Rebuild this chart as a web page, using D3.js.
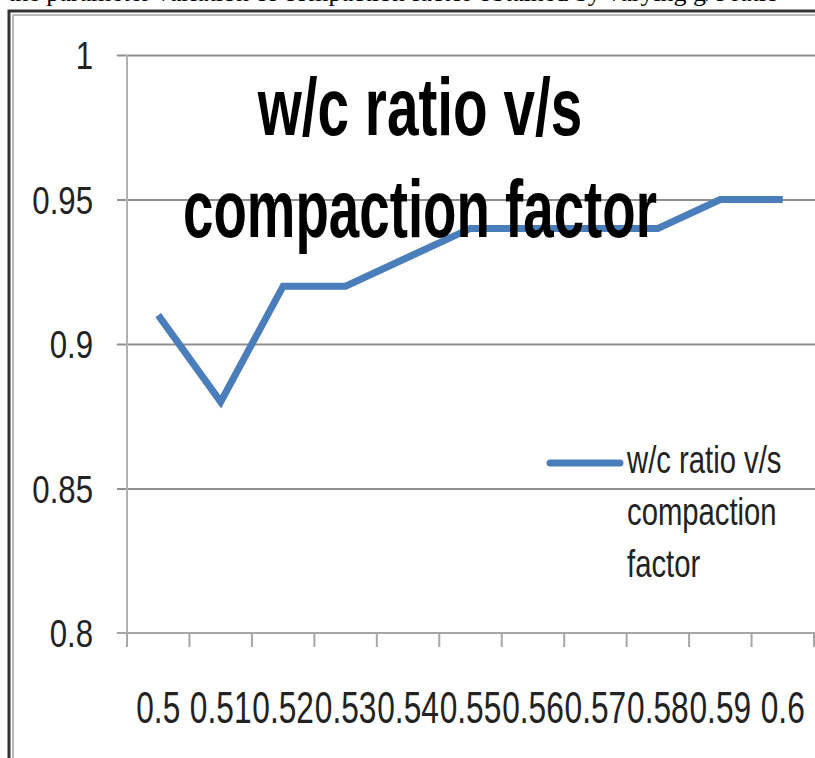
<!DOCTYPE html>
<html>
<head>
<meta charset="utf-8">
<script src="https://cdn.jsdelivr.net/npm/d3@7"></script>
<style>
  body { margin: 0; background: #fff; }
  svg { display: block; }
</style>
</head>
<body>
<svg id="chart"></svg>
<script>
// chart data
var categories = ['0.5', '0.51', '0.52', '0.53', '0.54', '0.55', '0.56', '0.57', '0.58', '0.59', '0.6'];
var compaction = [0.91, 0.88, 0.92, 0.92, 0.93, 0.94, 0.94, 0.94, 0.94, 0.95, 0.95];
var yTicks = [0.8, 0.85, 0.9, 0.95, 1];
var yTickLabels = ['0.8', '0.85', '0.9', '0.95', '1'];
var titleLines = ['w/c ratio v/s', 'compaction factor'];
var legendLines = ['w/c ratio v/s', 'compaction', 'factor'];

// layout
var width = 815,
	height = 758,
	plotLeft = 127,
	plotRight = 814,
	plotTop = 55,
	plotBottom = 633,
	lineColor = '#4a7ebb';

var svg = d3.select('#chart')
	.attr('width', width)
	.attr('height', height);

var x = d3.scaleBand()
	.domain(categories)
	.range([plotLeft, plotRight]);

var y = d3.scaleLinear()
	.domain([0.8, 1])
	.range([plotBottom, plotTop]);

// squeezed text helper (the source chart is horizontally compressed)
function squeezed(parent, str, tx, ty, size, sx, anchor, weight, family) {
	return parent.append('text')
		.attr('transform', 'translate(' + tx + ',' + ty + ') scale(' + sx + ',1)')
		.attr('text-anchor', anchor)
		.attr('font-family', family || '"Liberation Sans", Arial, sans-serif')
		.attr('font-size', size)
		.attr('font-weight', weight || 'normal')
		.attr('fill', '#000')
		.text(str);
}

// caption of the page, cut off at the top as in the scan
svg.append('text')
	.attr('x', 8)
	.attr('y', 1)
	.attr('font-family', '"Liberation Serif", "Times New Roman", serif')
	.attr('font-size', 26)
	.attr('fill', '#000')
	.text('the parameter variation of compaction factor obtained by varying g/c ratio');

// frame
svg.append('path')
	.attr('d', 'M9,' + height + 'V11H' + width)
	.attr('fill', 'none')
	.attr('stroke', '#333')
	.attr('stroke-width', 3);
svg.append('path')
	.attr('d', 'M13,' + height + 'V15H' + width)
	.attr('fill', 'none')
	.attr('stroke', '#b8b8b8')
	.attr('stroke-width', 2);

// gridlines
svg.append('g')
	.attr('transform', 'translate(' + (plotLeft - 10) + ',0)')
	.call(d3.axisLeft(y).tickValues(yTicks.slice(1)).tickSize(-(width - plotLeft + 10)).tickFormat(''))
	.call(function(g) {
		g.select('.domain').remove();
		g.selectAll('line').attr('stroke', '#8f8f8f').attr('stroke-width', 2);
	});

// y axis line
svg.append('line')
	.attr('x1', plotLeft).attr('x2', plotLeft)
	.attr('y1', y(1)).attr('y2', y(0.8) + 14)
	.attr('stroke', '#b3b3b3')
	.attr('stroke-width', 2);

// x axis line and ticks
svg.append('line')
	.attr('x1', plotLeft - 10).attr('x2', width)
	.attr('y1', y(0.8)).attr('y2', y(0.8))
	.attr('stroke', '#a6a6a6')
	.attr('stroke-width', 2);

var tickXs = categories.map(function(c) { return x(c); }).concat([x.range()[1]]);
svg.selectAll('.xtick')
	.data(tickXs)
	.enter().append('line')
		.attr('class', 'xtick')
		.attr('x1', function(d) { return d; })
		.attr('x2', function(d) { return d; })
		.attr('y1', y(0.8))
		.attr('y2', y(0.8) + 14)
		.attr('stroke', '#a6a6a6')
		.attr('stroke-width', 2);

// y tick labels
yTicks.forEach(function(v, i) {
	squeezed(svg, yTickLabels[i], 93, y(v) + 14, 39, 0.8, 'end')
		.attr('fill', '#222');
});

// x tick labels
categories.forEach(function(c) {
	squeezed(svg, c, x(c) + x.bandwidth() / 2, 723, 44, 0.72, 'middle')
		.attr('fill', '#222');
});

// series line
var line = d3.line()
	.x(function(d, i) { return x(categories[i]) + x.bandwidth() / 2; })
	.y(function(d) { return y(d); });

svg.append('path')
	.datum(compaction)
	.attr('d', line)
	.attr('fill', 'none')
	.attr('stroke', lineColor)
	.attr('stroke-width', 7)
	.attr('stroke-linejoin', 'miter');

// title
squeezed(svg, titleLines[0], 420, 135, 81, 0.7, 'middle', 'bold');
squeezed(svg, titleLines[1], 420, 237, 81, 0.675, 'middle', 'bold');

// legend
svg.append('line')
	.attr('x1', 550).attr('x2', 620)
	.attr('y1', 463).attr('y2', 463)
	.attr('stroke', lineColor)
	.attr('stroke-width', 7)
	.attr('stroke-linecap', 'round');

legendLines.forEach(function(t, i) {
	squeezed(svg, t, 627, 473 + i * 52, 38, 0.77, 'start')
		.attr('fill', '#222');
});
</script>
</body>
</html>
